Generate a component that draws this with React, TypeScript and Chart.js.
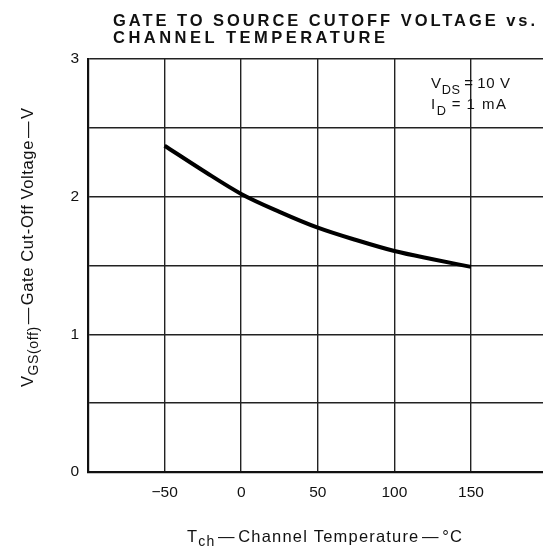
import React, { useEffect, useRef } from 'react';
import { Chart, registerables } from 'chart.js';

Chart.register(...registerables);

const TEMPS = [-50, -25, 0, 25, 50, 75, 100, 125, 150];
const VGS = [2.37, 2.19, 2.02, 1.89, 1.775, 1.685, 1.605, 1.545, 1.49];
const X_MIN = -100;
const X_MAX = 197;
const X_TICKS = [-100, -50, 0, 50, 100, 150];
const X_LABELED = [-50, 0, 50, 100, 150];
const Y_MIN = 0;
const Y_MAX = 3;
const Y_LABELED = [0, 1, 2, 3];
const TITLE_LINES = ['GATE TO SOURCE CUTOFF VOLTAGE vs.', 'CHANNEL TEMPERATURE'];

const FAMILY = '"Liberation Sans", Arial, Helvetica, sans-serif';
const INK = '#111';

type Part = { t: string; sub?: boolean };

function drawFit(
  ctx: CanvasRenderingContext2D,
  parts: Part[],
  x: number,
  y: number,
  size: number,
  target: number,
  weight = 'normal',
  subOffset = 0.32
) {
  const c = ctx as any;
  c.letterSpacing = '0px';
  let natural = 0;
  let n = 0;
  for (const p of parts) {
    const s = p.sub ? size * 0.85 : size;
    ctx.font = `${weight} ${s}px ${FAMILY}`;
    natural += ctx.measureText(p.t).width;
    n += p.t.length;
  }
  const ls = Math.max(0, (target - natural) / Math.max(1, n - 1));
  c.letterSpacing = `${ls}px`;
  let cx = x;
  for (const p of parts) {
    const s = p.sub ? size * 0.85 : size;
    ctx.font = `${weight} ${s}px ${FAMILY}`;
    ctx.fillText(p.t, cx, p.sub ? y + size * subOffset : y);
    cx += ctx.measureText(p.t).width;
  }
  c.letterSpacing = '0px';
}

const textPlugin = {
  id: 'textPlugin',
  afterDraw(chart: any) {
    const ctx: CanvasRenderingContext2D = chart.ctx;
    ctx.save();
    ctx.fillStyle = INK;
    ctx.textAlign = 'left';
    ctx.textBaseline = 'alphabetic';
    // Title
    drawFit(ctx, [{ t: TITLE_LINES[0] }], 113, 26, 16.5, 422, 'bold');
    drawFit(ctx, [{ t: TITLE_LINES[1] }], 113, 43, 16.5, 272, 'bold');
    // Conditions
    drawFit(ctx, [{ t: 'V' }, { t: 'DS', sub: true }, { t: '\u2009=\u200910 V' }], 431, 88, 15, 79, 'normal', 0.38);
    drawFit(ctx, [{ t: 'I' }, { t: 'D', sub: true }, { t: '\u2009=\u20091 mA' }], 431, 109, 15, 75, 'normal', 0.38);
    // X axis title
    drawFit(
      ctx,
      [{ t: 'T' }, { t: 'ch', sub: true }, { t: '\u200A\u2014\u200AChannel Temperature\u200A\u2014\u200A\u00B0C' }],
      187,
      542,
      16.5,
      275,
      'normal',
      0.22
    );
    // Y axis title
    ctx.translate(33, 387);
    ctx.rotate(-Math.PI / 2);
    drawFit(
      ctx,
      [{ t: 'V' }, { t: 'GS(off)', sub: true }, { t: '\u200A\u2014\u200AGate Cut-Off Voltage\u200A\u2014\u200AV' }],
      0,
      0,
      16.5,
      279,
      'normal',
      0.3
    );
    ctx.restore();
  },
};

export default function App() {
  const ref = useRef<HTMLCanvasElement>(null);
  useEffect(() => {
    if (!ref.current) return;
    const chart = new Chart(ref.current, {
      type: 'line',
      data: {
        datasets: [
          {
            data: TEMPS.map((t, i) => ({ x: t, y: VGS[i] })),
            borderColor: '#000',
            borderWidth: 4,
            pointRadius: 0,
            cubicInterpolationMode: 'monotone',
            fill: false,
          },
        ],
      },
      options: {
        responsive: false,
        animation: false,
        layout: { padding: { left: 0, top: 59, right: 0, bottom: 0 } },
        plugins: { legend: { display: false }, title: { display: false }, tooltip: { enabled: false } },
        scales: {
          x: {
            type: 'linear',
            min: X_MIN,
            max: X_MAX,
            grid: { color: '#222', lineWidth: 1.4, drawTicks: false },
            border: { color: '#111', width: 2.2 },
            afterBuildTicks: (s: any) => {
              s.ticks = X_TICKS.map((v) => ({ value: v }));
            },
            ticks: {
              display: true,
              padding: 11,
              color: INK,
              font: { family: FAMILY, size: 15.5 },
              callback: (v: any) => {
                const n = Number(v);
                if (!X_LABELED.includes(n)) return '';
                return n < 0 ? '\u2212' + Math.abs(n) : String(n);
              },
              maxRotation: 0,
              minRotation: 0,
              autoSkip: false,
            },
            afterFit: (s: any) => {
              s.height = 77;
            },
          },
          y: {
            type: 'linear',
            min: Y_MIN,
            max: Y_MAX,
            grid: { color: '#222', lineWidth: 1.4, drawTicks: false },
            border: { color: '#111', width: 2.2 },
            ticks: {
              stepSize: 0.5,
              padding: 9,
              color: INK,
              font: { family: FAMILY, size: 15.5 },
              callback: (v: any) => (Y_LABELED.includes(Number(v)) ? String(v) : ''),
              autoSkip: false,
            },
            afterFit: (s: any) => {
              s.width = 88;
            },
          },
        },
      },
      plugins: [textPlugin],
    } as any);
    return () => chart.destroy();
  }, []);
  return (
    <div style={{ position: 'fixed', left: 0, top: 0, width: 543, height: 549, background: '#fff' }}>
      <canvas ref={ref} width={543} height={549} style={{ width: 543, height: 549, display: 'block' }} />
    </div>
  );
}
